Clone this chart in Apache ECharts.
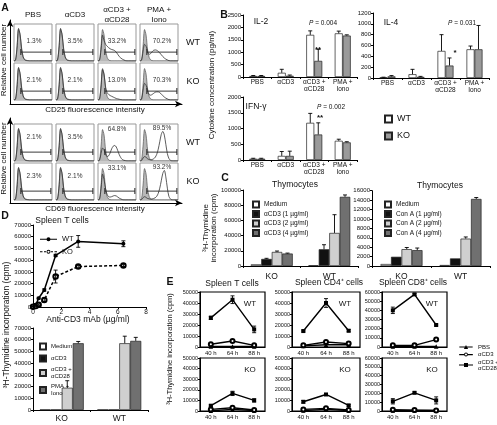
<!DOCTYPE html>
<html>
<head>
<meta charset="utf-8">
<script src="https://cdn.jsdelivr.net/npm/echarts@6/dist/echarts.min.js"></script>
<style>
html, body { margin: 0; padding: 0; background: #fff; }
#chart { width: 497px; height: 425px; }
</style>
</head>
<body>
<div id="chart"></div>
<script>
// ---- A: flow histograms (x in box units 0-100, y = relative cell number) ----
const histX = [0, 4, 8, 12, 16, 20, 24, 28, 32, 36, 40, 44, 48, 52, 56, 60, 64, 68, 72, 76, 80, 84, 88, 92, 96, 100];
const ctrlHist = [0, 3, 40, 85, 70, 30, 10, 3, 1, 0, 0, 0, 0, 0, 0, 0, 0, 0, 0, 0, 0, 0, 0, 0, 0, 0];
const restHist = [0, 2, 35, 88, 72, 35, 12, 4, 2, 1, 0, 0, 0, 0, 0, 0, 0, 0, 0, 0, 0, 0, 0, 0, 0, 0];
const cd25StimWT = [0, 2, 30, 70, 55, 45, 40, 36, 33, 31, 30, 28, 24, 18, 12, 8, 5, 3, 1, 0, 0, 0, 0, 0, 0, 0];
const cd25StimKO = [0, 2, 35, 82, 68, 35, 20, 15, 12, 10, 8, 6, 4, 3, 2, 1, 0, 0, 0, 0, 0, 0, 0, 0, 0, 0];
const cd25PmaWT = [0, 2, 25, 45, 40, 25, 18, 20, 25, 29, 30, 29, 26, 22, 17, 12, 8, 5, 3, 1, 0, 0, 0, 0, 0, 0];
const cd25PmaKO = [0, 2, 25, 45, 40, 25, 15, 13, 15, 18, 21, 22, 22, 20, 16, 12, 8, 5, 3, 1, 0, 0, 0, 0, 0, 0];
const cd69StimWT = [0, 2, 20, 35, 30, 18, 12, 14, 22, 33, 40, 42, 38, 28, 17, 9, 4, 2, 1, 0, 0, 0, 0, 0, 0, 0];
const cd69StimKO = [0, 2, 30, 70, 55, 30, 15, 9, 8, 9, 11, 12, 11, 8, 5, 3, 1, 0, 0, 0, 0, 0, 0, 0, 0, 0];
const cd69PmaWT = [0, 1, 8, 12, 10, 6, 4, 3, 4, 6, 10, 18, 32, 52, 72, 80, 70, 45, 20, 7, 2, 0, 0, 0, 0, 0];
const cd69PmaKO = [0, 1, 6, 9, 7, 4, 3, 2, 3, 4, 6, 10, 18, 32, 52, 72, 80, 62, 32, 10, 3, 0, 0, 0, 0, 0];
const gateX = [18, 97];
const gateY = 24;
const stimHeads = ['PBS', 'αCD3', 'αCD3 +\nαCD28', 'PMA +\nIono'];
const pctCD25WT = ['1.3%', '3.5%', '33.2%', '70.2%'];
const pctCD25KO = ['2.1%', '2.1%', '13.0%', '70.3%'];
const pctCD69WT = ['2.1%', '3.5%', '64.8%', '89.5%'];
const pctCD69KO = ['2.3%', '2.1%', '33.1%', '93.2%'];

// ---- B: cytokines (pg/ml), error = upper SD ----
const cytoCats = ['PBS', 'αCD3', 'αCD3 +\nαCD28', 'PMA +\nIono'];
const il2WT = [40, 170, 1700, 1760], il2WTErr = [20, 140, 160, 90];
const il2KO = [40, 50, 650, 1670], il2KOErr = [20, 30, 470, 30];
const il4WT = [10, 70, 500, 530], il4WTErr = [5, 90, 300, 60];
const il4KO = [30, 20, 230, 530], il4KOErr = [15, 10, 140, 440];
const ifnWT = [40, 130, 1180, 610], ifnWTErr = [15, 140, 300, 50];
const ifnKO = [40, 130, 810, 560], ifnKOErr = [15, 150, 370, 20];

// ---- C: thymocytes (cpm) ----
const thyCats = ['KO', 'WT'];
const cd3Medium = [2200, 1000], cd3MediumErr = [0, 0];
const cd3Low = [9300, 22000], cd3LowErr = [800, 6000];
const cd3Mid = [18500, 43500], cd3MidErr = [1200, 24000];
const cd3High = [16400, 91000], cd3HighErr = [600, 2500];
const conMedium = [420, 210], conMediumErr = [0, 0];
const conLow = [1960, 1610], conLowErr = [0, 0];
const conMid = [3580, 5820], conMidErr = [350, 350];
const conHigh = [3370, 14250], conHighErr = [450, 300];

// ---- D: spleen T cells ----
const doseX = [0, 0.2, 0.4, 0.8, 1.6, 3.2, 6.4];
const doseWT = [500, 2000, 7500, 14500, 44000, 56000, 54000];
const doseWTErr = [300, 500, 800, 1000, 1000, 5000, 2500];
const doseKO = [300, 800, 2000, 6000, 26000, 34500, 35500];
const doseKOErr = [300, 300, 600, 1500, 5500, 1200, 1000];
const spCats = ['KO', 'WT'];
const spMedium = [300, 300], spMediumErr = [0, 0];
const spCD3 = [300, 300], spCD3Err = [0, 0];
const spCD28 = [19000, 57000], spCD28Err = [6000, 6000];
const spPMA = [57000, 59000], spPMAErr = [1500, 3000];

// ---- E: kinetics ----
const timeCats = ['40 h', '64 h', '88 h'];
const tWT_PBS = [500, 500, 500], tWT_CD3 = [2500, 5500, 1500], tWT_CD28 = [26500, 43000, 16000], tWT_Err = [1500, 3500, 3000];
const tKO_PBS = [300, 1500, 500], tKO_CD3 = [1500, 3000, 1000], tKO_CD28 = [5000, 16600, 10000], tKO_Err = [800, 2000, 1500];
const c4WT_PBS = [1000, 2000, 2000], c4WT_CD3 = [1500, 4600, 3100], c4WT_CD28 = [14500, 40000, 14800], c4WT_Err = [800, 4000, 1000];
const c4KO_PBS = [500, 1500, 500], c4KO_CD3 = [1500, 2500, 1000], c4KO_CD28 = [8700, 15600, 5300], c4KO_Err = [1200, 800, 800];
const c8WT_PBS = [500, 500, 500], c8WT_CD3 = [1800, 1800, 8100], c8WT_CD28 = [40000, 57400, 24000], c8WT_Err = [3500, 1000, 1000];
const c8KO_PBS = [500, 500, 500], c8KO_CD3 = [1500, 1000, 500], c8KO_CD28 = [11000, 20600, 12000], c8KO_Err = [3000, 1000, 4000];

const FONT = '"Liberation Sans", Arial, sans-serif';
const chart = echarts.init(document.getElementById('chart'));

const grids = [], xAxes = [], yAxes = [], series = [], graphics = [];

// every grid gets exactly one x and one y axis, so axis index == grid index
function addGrid(g, xa, ya) {
    grids.push(Object.assign({ containLabel: false }, g));
    const gi = grids.length - 1;
    xAxes.push(Object.assign({ gridIndex: gi }, xa));
    yAxes.push(Object.assign({ gridIndex: gi }, ya));
    return gi;
}

function txt(x, y, text, size, opt) {
    opt = opt || {};
    return {
        type: 'text', x: x, y: y, silent: true, rotation: opt.rot || 0,
        style: {
            text: text, fontSize: size, fontFamily: FONT, fontWeight: opt.bold ? 'bold' : 'normal',
            fill: opt.color || '#111', align: opt.align || 'center', verticalAlign: 'middle',
            lineHeight: opt.lh || size + 1, rich: opt.rich
        }
    };
}

function valAxis(max, interval, extra) {
    return Object.assign({
        type: 'value', min: 0, max: max, interval: interval,
        splitLine: { show: false },
        axisLine: { show: true, lineStyle: { color: '#000', width: 1 } },
        axisTick: { show: true, length: 2, lineStyle: { color: '#000' } },
        axisLabel: { fontSize: 6, color: '#111', margin: 2, fontFamily: FONT, formatter: v => String(v) }
    }, extra || {});
}

function catAxis(cats, extra) {
    return Object.assign({
        type: 'category', data: cats,
        axisLine: { show: true, lineStyle: { color: '#000', width: 1 } },
        axisTick: { show: true, length: 2, lineStyle: { color: '#000' } },
        axisLabel: { fontSize: 6.5, color: '#111', margin: 2, interval: 0, lineHeight: 6.5, fontFamily: FONT }
    }, extra || {});
}

function errSeries(gi, data, offset, capBottom) {
    return {
        type: 'custom', xAxisIndex: gi, yAxisIndex: gi, silent: true, z: 4,
        data: data, encode: { x: 0, y: [1, 2] },
        renderItem: function (params, api) {
            const lo = api.coord([api.value(0), api.value(1)]);
            const hi = api.coord([api.value(0), api.value(2)]);
            const x = lo[0] + offset;
            const st = { stroke: '#000', lineWidth: 0.9 };
            const ch = [
                { type: 'line', shape: { x1: x, y1: lo[1], x2: x, y2: hi[1] }, style: st },
                { type: 'line', shape: { x1: x - 2, y1: hi[1], x2: x + 2, y2: hi[1] }, style: st }
            ];
            if (capBottom) ch.push({ type: 'line', shape: { x1: x - 2, y1: lo[1], x2: x + 2, y2: lo[1] }, style: st });
            return { type: 'group', children: ch };
        }
    };
}

function barErr(gi, vals, errs, offset) {
    const d = [];
    vals.forEach((v, i) => { if (errs[i] > 0) d.push([i, v, v + errs[i]]); });
    return errSeries(gi, d, offset, false);
}

function bar(gi, name, vals, color, width) {
    return {
        type: 'bar', name: name, xAxisIndex: gi, yAxisIndex: gi, data: vals,
        barWidth: width, barGap: '0%', silent: true,
        itemStyle: { color: color, borderColor: '#222', borderWidth: 0.7 }
    };
}

// ================= A =================
const boxLeft = [14, 56, 98, 140];
const rowTop = [24, 63, 124, 163];
const rowCurves = [
    [restHist, restHist, cd25StimWT, cd25PmaWT],
    [restHist, restHist, cd25StimKO, cd25PmaKO],
    [restHist, restHist, cd69StimWT, cd69PmaWT],
    [restHist, restHist, cd69StimKO, cd69PmaKO]
];
const rowPct = [pctCD25WT, pctCD25KO, pctCD69WT, pctCD69KO];
const rowPctDy = [[17, 17, 17, 17], [17, 17, 17, 17], [13, 13, 5, 4], [13, 13, 5, 4]];
const pctDx = [1, 0, 0, 3];

rowTop.forEach((top, r) => {
    boxLeft.forEach((left, c) => {
        const hide = { type: 'value', min: 0, max: 100, show: false };
        const gi = addGrid({ left: left, top: top, width: 38, height: 37, show: true, borderColor: '#999', borderWidth: 1 }, hide, hide);
        series.push({
            type: 'line', xAxisIndex: gi, yAxisIndex: gi, silent: true, symbol: 'none', smooth: 0.3,
            data: histX.map((x, i) => [x, ctrlHist[i]]),
            lineStyle: { color: '#555', width: 0.7 }, areaStyle: { color: '#b8b8b8', opacity: 1 }
        });
        series.push({
            type: 'line', xAxisIndex: gi, yAxisIndex: gi, silent: true, symbol: 'none', smooth: 0.3,
            data: histX.map((x, i) => [x, rowCurves[r][c][i]]),
            lineStyle: { color: '#333', width: 0.8 }
        });
        series.push({
            type: 'line', xAxisIndex: gi, yAxisIndex: gi, silent: true, symbol: 'rect', symbolSize: [1, 6],
            data: [[gateX[0], gateY], [gateX[1], gateY]],
            lineStyle: { color: '#222', width: 0.9 }, itemStyle: { color: '#222' }
        });
        graphics.push(txt(left + 19 + pctDx[c], top + rowPctDy[r][c], rowPct[r][c], 6.5, { color: '#333' }));
    });
});

// outer arrow axes for A
[[20, 84, 'CD25 fluorescence intensity', 110], [118, 85, 'CD69 fluorescence intensity', 209]].forEach(a => {
    const arrowLine = { show: true, symbol: ['none', 'arrow'], symbolSize: [5, 7], lineStyle: { color: '#000', width: 1 } };
    const ax = { type: 'value', min: 0, max: 1, axisLine: arrowLine, axisTick: { show: false }, axisLabel: { show: false }, splitLine: { show: false } };
    addGrid({ left: 10, top: a[0], width: 172, height: a[1] }, ax, ax);
    graphics.push(txt(95, a[3], a[2], 8));
    graphics.push(txt(4, a[0] + a[1] / 2 - 2, 'Relative cell number', 8, { rot: Math.PI / 2 }));
});

[33, 75, 117, 159].forEach((x, i) => graphics.push(txt(x, 15, stimHeads[i], 8, { lh: 10 })));
[[43, 'WT'], [82, 'KO'], [143, 'WT'], [182, 'KO']].forEach(p => graphics.push(txt(193, p[0], p[1], 9)));
graphics.push(txt(5, 8, 'A', 10.5, { bold: true }));

// ================= B =================
const bCharts = [
    { g: { left: 243, top: 15, width: 114, height: 62 }, max: 2500, int: 500, wt: il2WT, wtE: il2WTErr, ko: il2KO, koE: il2KOErr },
    { g: { left: 373, top: 13, width: 116, height: 65 }, max: 1200, int: 200, wt: il4WT, wtE: il4WTErr, ko: il4KO, koE: il4KOErr },
    { g: { left: 243, top: 97, width: 114, height: 63 }, max: 2000, int: 500, wt: ifnWT, wtE: ifnWTErr, ko: ifnKO, koE: ifnKOErr }
];
bCharts.forEach(b => {
    const gi = addGrid(b.g, catAxis(cytoCats), valAxis(b.max, b.int));
    series.push(bar(gi, 'WT', b.wt, '#fff', 8));
    series.push(bar(gi, 'KO', b.ko, '#9a9a9a', 8));
    series.push(barErr(gi, b.wt, b.wtE, -4));
    series.push(barErr(gi, b.ko, b.koE, 4));
});
const rich = { i: { fontStyle: 'italic', fontSize: 6.5, fontFamily: FONT } };
graphics.push(txt(224, 15, 'B', 10.5, { bold: true }));
graphics.push(txt(261, 22, 'IL-2', 8.5));
graphics.push(txt(391, 23, 'IL-4', 8.5));
graphics.push(txt(256, 107, 'IFN-γ', 8.5));
graphics.push(txt(323, 23, '{i|P} = 0.004', 6.5, { rich: rich }));
graphics.push(txt(462, 23, '{i|P} = 0.031', 6.5, { rich: rich }));
graphics.push(txt(331, 107, '{i|P} = 0.002', 6.5, { rich: rich }));
graphics.push(txt(318, 50, '**', 8, { bold: true }));
graphics.push(txt(455, 53, '*', 8, { bold: true }));
graphics.push(txt(320, 118, '**', 8, { bold: true }));
graphics.push(txt(212, 85, 'Cytokine concentration (pg/ml)', 8, { rot: Math.PI / 2 }));

// ================= C =================
const cBarW = 10.5;
const cOff = [-1.5, -0.5, 0.5, 1.5].map(k => k * cBarW);
const cCols = ['#fff', '#111', '#cfcfcf', '#707070'];
const thyCatAxis = () => catAxis(thyCats, { axisLabel: { fontSize: 8.5, color: '#111', margin: 6, fontFamily: FONT } });
const cSets = [
    { g: { left: 243, top: 190, width: 115, height: 76 }, max: 100000, int: 20000, pre: 'C1|',
      names: ['Medium', 'αCD3 (1 µg/ml)', 'αCD3 (2 µg/ml)', 'αCD3 (4 µg/ml)'],
      vals: [cd3Medium, cd3Low, cd3Mid, cd3High], errs: [cd3MediumErr, cd3LowErr, cd3MidErr, cd3HighErr] },
    { g: { left: 372, top: 190.7, width: 118, height: 75.3 }, max: 16000, int: 2000, pre: 'C2|',
      names: ['Medium', 'Con A (1 µg/ml)', 'Con A (2 µg/ml)', 'Con A (4 µg/ml)'],
      vals: [conMedium, conLow, conMid, conHigh], errs: [conMediumErr, conLowErr, conMidErr, conHighErr] }
];
cSets.forEach(s => {
    const gi = addGrid(s.g, thyCatAxis(), valAxis(s.max, s.int));
    s.names.forEach((n, k) => series.push(bar(gi, s.pre + n, s.vals[k], cCols[k], cBarW)));
    s.names.forEach((n, k) => series.push(barErr(gi, s.vals[k], s.errs[k], cOff[k])));
});
graphics.push(txt(225, 178, 'C', 10.5, { bold: true }));
graphics.push(txt(295, 185, 'Thymocytes', 8.5));
graphics.push(txt(440, 186, 'Thymocytes', 8.5));
graphics.push(txt(210, 228, '³H-Thymidine\nincorporation (cpm)', 8, { rot: Math.PI / 2, lh: 8.5 }));

// ================= D =================
const dTop = addGrid({ left: 33, top: 225, width: 113, height: 82 },
    valAxis(8, 2, { axisLabel: { fontSize: 6.5, color: '#111', margin: 2, fontFamily: FONT } }),
    valAxis(70000, 10000));
series.push({
    type: 'line', name: 'D1|WT', xAxisIndex: dTop, yAxisIndex: dTop, silent: true,
    data: doseX.map((x, i) => [x, doseWT[i]]), symbol: 'circle', symbolSize: 4,
    lineStyle: { color: '#000', width: 1.5 }, itemStyle: { color: '#000' }
});
series.push({
    type: 'line', name: 'D1|KO', xAxisIndex: dTop, yAxisIndex: dTop, silent: true,
    data: doseX.map((x, i) => [x, doseKO[i]]), symbol: 'emptyCircle', symbolSize: 4.5,
    lineStyle: { color: '#000', width: 1.5, type: [3, 2] }, itemStyle: { color: '#000', borderWidth: 1 }
});
series.push(errSeries(dTop, doseX.map((x, i) => [x, doseWT[i] - doseWTErr[i], doseWT[i] + doseWTErr[i]]), 0, true));
series.push(errSeries(dTop, doseX.map((x, i) => [x, doseKO[i] - doseKOErr[i], doseKO[i] + doseKOErr[i]]), 0, true));

const dBarW = 11;
const dOff = [-1.5, -0.5, 0.5, 1.5].map(k => k * dBarW);
const dBot = addGrid({ left: 33, top: 328, width: 115, height: 82 },
    catAxis(spCats, { axisLabel: { fontSize: 8.5, color: '#111', margin: 4, fontFamily: FONT } }),
    valAxis(70000, 10000));
const dNames = ['Medium', 'αCD3', 'αCD3 +\nαCD28', 'PMA +\nIono'];
const dVals = [spMedium, spCD3, spCD28, spPMA], dErrs = [spMediumErr, spCD3Err, spCD28Err, spPMAErr];
dNames.forEach((n, k) => series.push(bar(dBot, 'D2|' + n, dVals[k], cCols[k], dBarW)));
dNames.forEach((n, k) => series.push(barErr(dBot, dVals[k], dErrs[k], dOff[k])));
graphics.push(txt(5, 216, 'D', 10.5, { bold: true }));
graphics.push(txt(62, 221, 'Spleen T cells', 8.5));
graphics.push(txt(88, 320, 'Anti-CD3 mAb (µg/ml)', 8.5));
graphics.push(txt(7, 325, '³H-Thymidine incorporation (cpm)', 8.5, { rot: Math.PI / 2 }));

// ================= E =================
const eLeft = [200, 292, 382], eWidth = [65, 68, 65];
const eTop = [292, 358], eHeight = [55, 53];
const eMax = [50000, 50000, 60000];
const eSets = [
    [[tWT_PBS, tWT_CD3, tWT_CD28, tWT_Err], [tKO_PBS, tKO_CD3, tKO_CD28, tKO_Err]],
    [[c4WT_PBS, c4WT_CD3, c4WT_CD28, c4WT_Err], [c4KO_PBS, c4KO_CD3, c4KO_CD28, c4KO_Err]],
    [[c8WT_PBS, c8WT_CD3, c8WT_CD28, c8WT_Err], [c8KO_PBS, c8KO_CD3, c8KO_CD28, c8KO_Err]]
];
const eNames = ['E|PBS', 'E|αCD3', 'E|αCD3 +\nαCD28'];
const eSym = [['triangle', 4.5], ['emptyCircle', 4], ['rect', 4]];
eSets.forEach((col, c) => {
    col.forEach((set, r) => {
        const gi = addGrid(
            { left: eLeft[c], top: eTop[r], width: eWidth[c], height: eHeight[r], show: true, borderColor: '#000', borderWidth: 1.2 },
            catAxis(timeCats, { axisTick: { show: false }, axisLabel: { fontSize: 6, color: '#111', margin: 3, fontFamily: FONT } }),
            valAxis(eMax[c], 10000, { axisLabel: { fontSize: 5.5, color: '#111', margin: 2, fontFamily: FONT, formatter: v => String(v) } })
        );
        [0, 1, 2].forEach(k => series.push({
            type: 'line', name: eNames[k], xAxisIndex: gi, yAxisIndex: gi, silent: true,
            data: set[k], symbol: eSym[k][0], symbolSize: eSym[k][1],
            lineStyle: { color: '#000', width: 1.4 }, itemStyle: { color: '#000', borderWidth: 1 }
        }));
        series.push(errSeries(gi, set[2].map((v, i) => [i, v - set[3][i], v + set[3][i]]), 0, true));
        graphics.push(txt(eLeft[c] + eWidth[c] - 15, eTop[r] + 12, r === 0 ? 'WT' : 'KO', 8));
    });
});
graphics.push(txt(170, 282, 'E', 10.5, { bold: true }));
graphics.push(txt(232, 284, 'Spleen T cells', 8.5));
graphics.push(txt(329, 283, 'Spleen CD4⁺ cells', 8.5));
graphics.push(txt(413, 283, 'Spleen CD8⁺ cells', 8.5));
graphics.push(txt(170, 349, '³H-Thymidine incorporation (cpm)', 7.5, { rot: Math.PI / 2 }));

// ================= legends =================
// small line+marker icons (the default legend markers come out too big at this size)
const ring = (cx, r, w) => `M${cx - r},3 A${r},${r} 0 1,1 ${cx + r},3 A${r},${r} 0 1,1 ${cx - r},3 Z ` +
    `M${cx - r + w},3 A${r - w},${r - w} 0 1,0 ${cx + r - w},3 A${r - w},${r - w} 0 1,0 ${cx - r + w},3 Z`;
const seg = (x1, x2) => `M${x1},2.4 L${x2},2.4 L${x2},3.6 L${x1},3.6 Z `;
const icoPBS = 'path://' + seg(0, 14) + 'M4.8,5 L7,1 L9.2,5 Z M0,0.9 L0.01,0.9 L0.01,0.91 Z M0,5.1 L0.01,5.1 L0.01,5.09 Z';
const icoCD3 = 'path://' + seg(0, 5) + seg(9, 14) + ring(7, 2, 0.9) + ' M0,0.9 L0.01,0.9 L0.01,0.91 Z';
const icoCD28 = 'path://' + seg(0, 14) + 'M5,1 L9,1 L9,5 L5,5 Z';
const icoWT = 'path://' + seg(0, 17) + 'M6.5,3 A2,2 0 1,1 10.5,3 A2,2 0 1,1 6.5,3 Z';
const icoKO = 'path://' + seg(0, 2.5) + seg(4, 6) + seg(11, 13) + seg(14.5, 17) + ring(8.5, 2, 0.9);

const strip = n => n.split('|').pop();
const legText = (size, lh) => ({ fontSize: size, color: '#111', fontFamily: FONT, lineHeight: lh || size + 1 });
const legend = [
    { data: ['WT', 'KO'], orient: 'vertical', left: 379, top: 109, icon: 'rect', itemWidth: 7, itemHeight: 7, itemGap: 7, selectedMode: false, textStyle: legText(9) },
    { data: cSets[0].names.map(n => 'C1|' + n), formatter: strip, orient: 'vertical', left: 247, top: 195.5, icon: 'rect', itemWidth: 6, itemHeight: 6, itemGap: 1.5, selectedMode: false, textStyle: legText(6.5) },
    { data: cSets[1].names.map(n => 'C2|' + n), formatter: strip, orient: 'vertical', left: 379, top: 195.5, icon: 'rect', itemWidth: 6, itemHeight: 6, itemGap: 1.5, selectedMode: false, textStyle: legText(6.5) },
    { data: [{ name: 'D1|WT', icon: icoWT }, { name: 'D1|KO', icon: icoKO }], formatter: strip, orient: 'vertical', left: 35, top: 230, itemWidth: 17, itemHeight: 4, itemGap: 4, selectedMode: false, textStyle: legText(7.5) },
    { data: dNames.map(n => 'D2|' + n), formatter: strip, orient: 'vertical', left: 34, top: 337.5, icon: 'rect', itemWidth: 6, itemHeight: 6, itemGap: 4, selectedMode: false, textStyle: legText(6, 6.5) },
    { data: [{ name: eNames[0], icon: icoPBS }, { name: eNames[1], icon: icoCD3 }, { name: eNames[2], icon: icoCD28 }],
      formatter: strip, orient: 'vertical', left: 454, top: 339, itemWidth: 14, itemHeight: 4, itemGap: 1.5, selectedMode: false, textStyle: legText(6, 6) }
];

chart.setOption({
    animation: false,
    backgroundColor: '#fff',
    textStyle: { fontFamily: FONT },
    grid: grids,
    xAxis: xAxes,
    yAxis: yAxes,
    legend: legend,
    series: series,
    graphic: graphics
});
</script>
</body>
</html>
